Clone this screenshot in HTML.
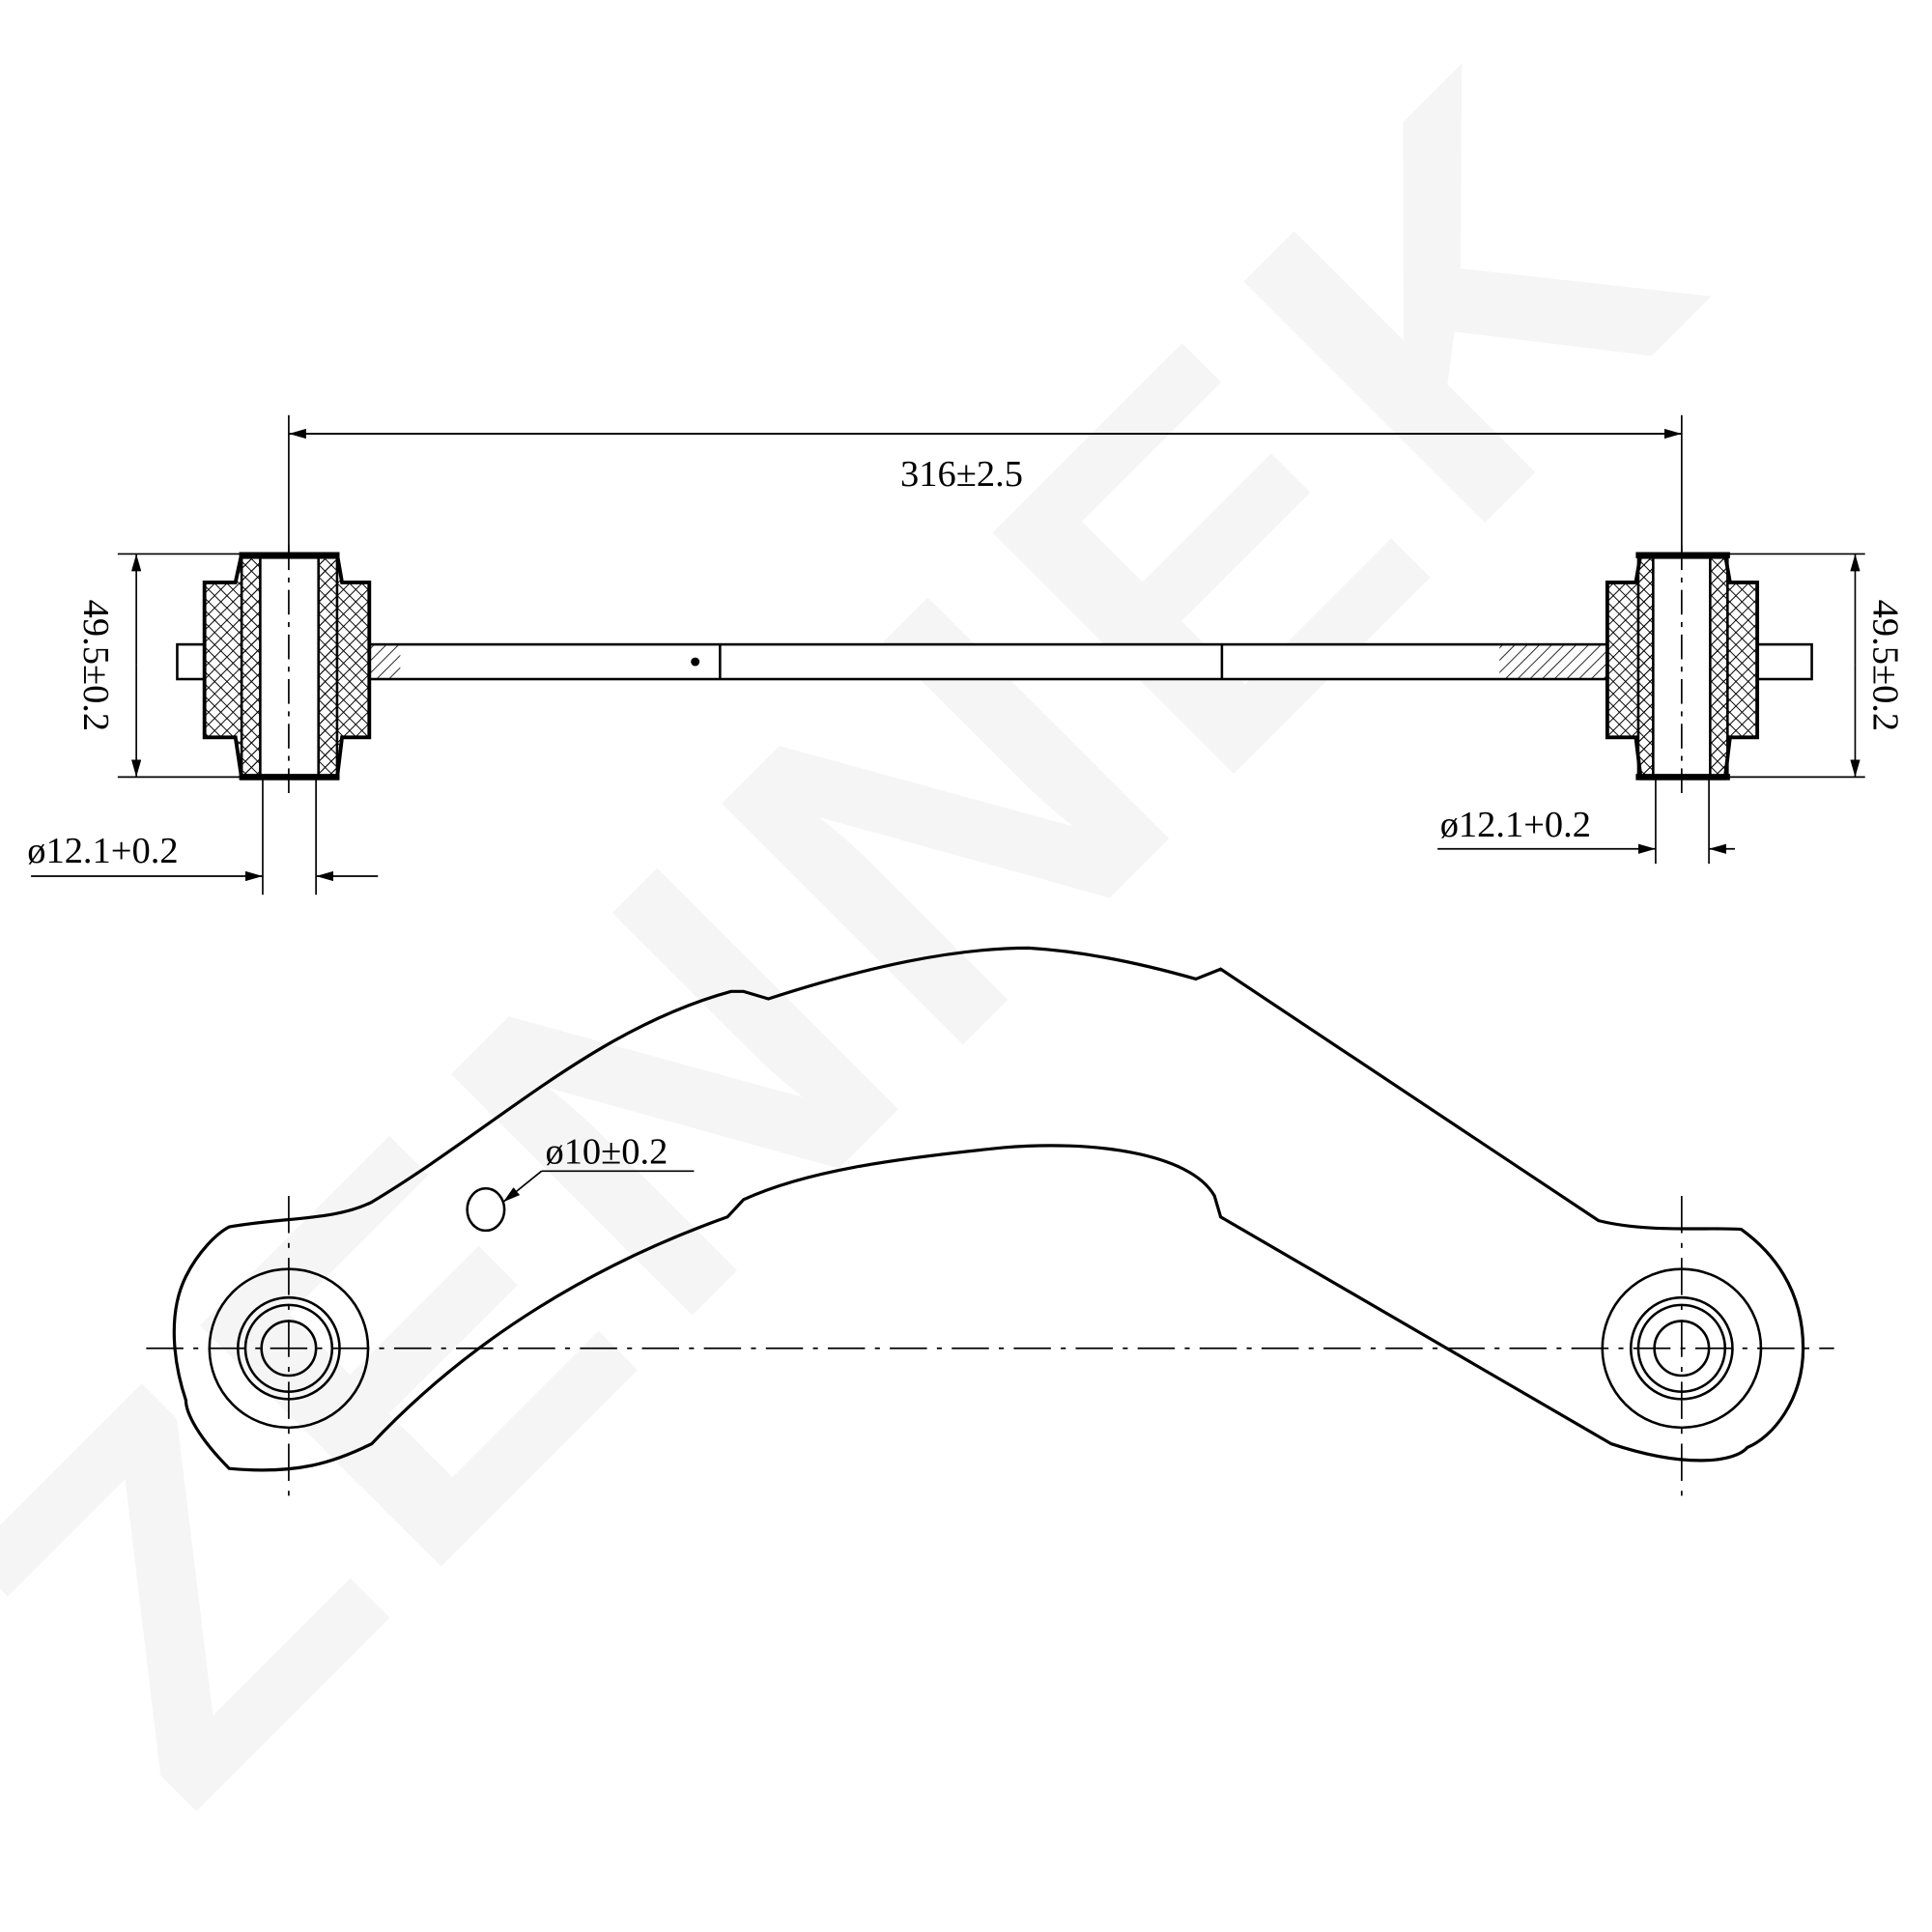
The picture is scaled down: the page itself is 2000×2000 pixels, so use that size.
<!DOCTYPE html>
<html><head><style>html,body{margin:0;padding:0;background:#fff}svg{display:block}</style></head>
<body>
<svg width="2000" height="2000" viewBox="0 0 1559 1559" xmlns="http://www.w3.org/2000/svg">
<defs>
<pattern id="h" width="7" height="7" patternUnits="userSpaceOnUse" patternTransform="rotate(45)"><line x1="0" y1="0" x2="0" y2="7" stroke="#000" stroke-width="1.3"/></pattern>
<pattern id="x" width="7" height="7" patternUnits="userSpaceOnUse" patternTransform="rotate(45)"><rect width="7" height="7" fill="#fff"/><line x1="0" y1="0" x2="0" y2="7" stroke="#000" stroke-width="1.5"/><line x1="0" y1="0" x2="7" y2="0" stroke="#000" stroke-width="1.5"/></pattern>
<marker id="a" markerWidth="14" markerHeight="8" refX="14" refY="4" orient="auto" markerUnits="userSpaceOnUse"><path d="M0,0 L14,4 L0,8z" fill="#000"/></marker>
</defs>
<!-- watermark -->
<text x="0" y="0" transform="translate(150,1470) rotate(-45)" font-family="Liberation Sans, sans-serif" font-weight="bold" font-size="400" fill="#f5f5f5" letter-spacing="20">ZENNEK</text>

<g stroke="#000" fill="none" stroke-width="2" font-family="Liberation Serif, serif">
<line x1="233" y1="335" x2="233" y2="460" stroke-width="1.3"/>
<line x1="1357" y1="335" x2="1357" y2="460" stroke-width="1.3"/>
<line x1="1357" y1="350" x2="233" y2="350" stroke-width="1.3" marker-end="url(#a)"/>
<line x1="233" y1="350" x2="1357" y2="350" stroke-width="1.3" marker-end="url(#a)"/>
<text x="776" y="392" font-size="30" fill="#000" stroke="none" text-anchor="middle">316±2.5</text>

<rect x="143" y="520" width="1319" height="28" fill="#fff"/>
<rect x="1210" y="520" width="90" height="28" fill="url(#h)" stroke="none"/>
<rect x="298" y="520" width="25" height="28" fill="url(#h)" stroke="none"/>
<line x1="581" y1="520" x2="581" y2="548"/><line x1="986" y1="520" x2="986" y2="548"/>
<circle cx="561" cy="534" r="2.5" fill="#000"/>

<g>
<path d="M165,470 L190,470 L195,447 L272,447 L276,470 L298,470 L298,595 L276,595 L272,628 L195,628 L190,595 L165,595 Z" fill="url(#x)" stroke-width="3"/>
<rect x="195" y="450" width="77" height="176" fill="url(#h)" stroke-width="2"/>
<rect x="210" y="450" width="47" height="176" fill="#fff" stroke-width="2"/>
<line x1="193" y1="448" x2="274" y2="448" stroke-width="5"/>
<line x1="193" y1="627" x2="274" y2="627" stroke-width="5"/>
<line x1="233" y1="440" x2="233" y2="640" stroke-width="1.3" stroke-dasharray="20,6,4,6"/>
</g>
<g>
<path d="M1297,470 L1320,470 L1324,447 L1392,447 L1396,470 L1418,470 L1418,595 L1396,595 L1392,628 L1324,628 L1320,595 L1297,595 Z" fill="url(#x)" stroke-width="3"/>
<rect x="1322" y="450" width="72" height="176" fill="url(#h)" stroke-width="2"/>
<rect x="1334" y="450" width="46" height="176" fill="#fff" stroke-width="2"/>
<line x1="1320" y1="448" x2="1396" y2="448" stroke-width="5"/>
<line x1="1320" y1="627" x2="1396" y2="627" stroke-width="5"/>
<line x1="1357" y1="440" x2="1357" y2="640" stroke-width="1.3" stroke-dasharray="20,6,4,6"/>
</g>

<g stroke-width="1.3">
<line x1="95" y1="447" x2="195" y2="447"/><line x1="95" y1="627" x2="195" y2="627"/>
<line x1="110" y1="537" x2="110" y2="447" marker-end="url(#a)"/><line x1="110" y1="537" x2="110" y2="627" marker-end="url(#a)"/>
<line x1="1392" y1="447" x2="1505" y2="447"/><line x1="1392" y1="627" x2="1505" y2="627"/>
<line x1="1497" y1="537" x2="1497" y2="447" marker-end="url(#a)"/><line x1="1497" y1="537" x2="1497" y2="627" marker-end="url(#a)"/>
</g>
<text transform="translate(68,537) rotate(90)" font-size="30" fill="#000" stroke="none" text-anchor="middle">49.5±0.2</text>
<text transform="translate(1512,537) rotate(90)" font-size="30" fill="#000" stroke="none" text-anchor="middle">49.5±0.2</text>

<g stroke-width="1.3">
<line x1="212" y1="628" x2="212" y2="722"/><line x1="255" y1="628" x2="255" y2="722"/>
<line x1="25" y1="707" x2="212" y2="707" marker-end="url(#a)"/><line x1="305" y1="707" x2="255" y2="707" marker-end="url(#a)"/>
<line x1="1336" y1="628" x2="1336" y2="697"/><line x1="1379" y1="628" x2="1379" y2="697"/>
<line x1="1160" y1="685" x2="1336" y2="685" marker-end="url(#a)"/><line x1="1400" y1="685" x2="1379" y2="685" marker-end="url(#a)"/>
</g>
<text x="22" y="696" font-size="30" fill="#000" stroke="none">ø12.1+0.2</text>
<text x="1162" y="675" font-size="30" fill="#000" stroke="none">ø12.1+0.2</text>

<path d="M185,990 C230,982 270,985 300,970 C400,910 480,830 590,800 L600,800 L620,806 C700,780 770,765 830,765 C880,768 930,780 965,790 L985,782 L1290,985 C1330,995 1380,990 1405,992 C1430,1010 1455,1040 1455,1088 C1455,1130 1430,1160 1410,1168 C1400,1180 1360,1185 1300,1165 L985,982 L980,965 C960,930 880,920 810,926 C720,935 650,945 600,968 L587,982 C480,1020 380,1080 300,1165 C270,1180 240,1190 185,1185 C160,1160 150,1140 150,1130 C140,1100 135,1060 150,1030 C160,1010 175,995 185,990 Z" stroke-width="2.5"/>
<circle cx="233" cy="1088" r="64"/><circle cx="233" cy="1088" r="41"/><circle cx="233" cy="1088" r="35"/><circle cx="233" cy="1088" r="22"/>
<circle cx="1357" cy="1088" r="64"/><circle cx="1357" cy="1088" r="41"/><circle cx="1357" cy="1088" r="35"/><circle cx="1357" cy="1088" r="22"/>
<g stroke-width="1.3" stroke-dasharray="30,8,4,8">
<line x1="118" y1="1088" x2="1480" y2="1088"/>
<line x1="233" y1="965" x2="233" y2="1215"/>
<line x1="1357" y1="965" x2="1357" y2="1215"/>
</g>
<ellipse cx="392" cy="976" rx="15" ry="17"/>
<line x1="560" y1="945" x2="437" y2="945" stroke-width="1.3"/>
<line x1="437" y1="945" x2="406" y2="970" stroke-width="1.3" marker-end="url(#a)"/>
<text x="440" y="939" font-size="30" fill="#000" stroke="none">ø10±0.2</text>
</g>
</svg>
</body></html>
